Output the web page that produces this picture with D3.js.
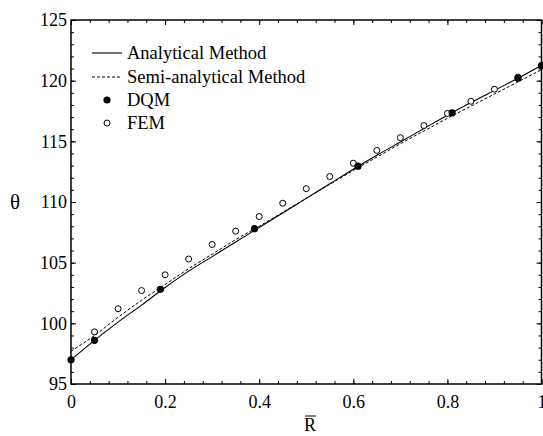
<!DOCTYPE html>
<html>
<head>
<meta charset="utf-8">
<script src="https://cdn.jsdelivr.net/npm/d3@7"></script>
<style>
  body { margin: 0; background: #fff; }
  svg { display: block; }
</style>
</head>
<body>
<div id="js-chart"></div>
<script>
// data
const xLine = [0, 0.05, 0.1, 0.15, 0.2, 0.25, 0.3, 0.35, 0.4, 0.45, 0.5, 0.55, 0.6, 0.65, 0.7, 0.75, 0.8, 0.85, 0.9, 0.95, 1];
const analytical = [97.0, 98.6, 100.1, 101.5, 102.95, 104.3, 105.5, 106.7, 107.9, 109.1, 110.3, 111.5, 112.7, 113.85, 114.95, 116.05, 117.15, 118.2, 119.2, 120.2, 121.25];
const semiAnalytical = [97.7, 99.0, 100.5, 101.9, 103.2, 104.5, 105.7, 106.9, 108.0, 109.15, 110.3, 111.45, 112.6, 113.7, 114.8, 115.85, 116.9, 117.9, 118.9, 119.9, 120.9];
const dqmX = [0, 0.05, 0.19, 0.39, 0.61, 0.81, 0.95, 1];
const dqmY = [97.0, 98.6, 102.8, 107.8, 112.95, 117.35, 120.2, 121.25];
const femX = [0.05, 0.1, 0.15, 0.2, 0.25, 0.3, 0.35, 0.4, 0.45, 0.5, 0.55, 0.6, 0.65, 0.7, 0.75, 0.8, 0.85, 0.9, 0.95, 1];
const femY = [99.3, 101.2, 102.7, 104.0, 105.3, 106.5, 107.6, 108.8, 109.9, 111.1, 112.1, 113.2, 114.25, 115.3, 116.3, 117.3, 118.3, 119.3, 120.3, 121.2];
const xTicks = [0, 0.2, 0.4, 0.6, 0.8, 1];
const yTicks = [95, 100, 105, 110, 115, 120, 125];
const legendItems = ['Analytical Method', 'Semi-analytical Method', 'DQM', 'FEM'];

const FONT = 'Liberation Serif';
const W = 543, H = 436;
const m = { left: 71, right: 1.5, top: 20, bottom: 52 };

const svg = d3.select('#js-chart').append('svg')
  .attr('width', W).attr('height', H)
  .attr('font-family', FONT);

const x = d3.scaleLinear().domain([0, 1]).range([m.left, W - m.right]);
const y = d3.scaleLinear().domain([95, 125]).range([H - m.bottom, m.top]);

const xMinor = d3.range(0, 1.0001, 0.04).map(v => +v.toFixed(2));
const yMinor = d3.range(95, 125.001, 1);

// axes, ticks inward
function addAxis(axis, tr, values, size, pad, fmt) {
  const g = svg.append('g').attr('transform', tr)
    .call(axis.tickValues(values).tickSize(size).tickPadding(pad).tickFormat(fmt));
  g.attr('font-family', FONT).attr('font-size', 18);
  g.select('.domain').remove();
  g.selectAll('line').attr('stroke', '#000').attr('stroke-width', 1);
  g.selectAll('text').attr('fill', '#000');
  return g;
}
const noLabel = () => '';
const bottomY = y(95), topY = y(125), leftX = x(0), rightX = x(1);

addAxis(d3.axisBottom(x), `translate(0,${bottomY})`, xTicks, -5, 11, d3.format('~g'));
addAxis(d3.axisBottom(x), `translate(0,${bottomY})`, xMinor, -3, 0, noLabel);
addAxis(d3.axisTop(x), `translate(0,${topY})`, xTicks, -5, 0, noLabel);
addAxis(d3.axisTop(x), `translate(0,${topY})`, xMinor, -3, 0, noLabel);
addAxis(d3.axisLeft(y), `translate(${leftX},0)`, yTicks, -5, 4, d3.format('d'));
addAxis(d3.axisLeft(y), `translate(${leftX},0)`, yMinor, -3, 0, noLabel);
addAxis(d3.axisRight(y), `translate(${rightX},0)`, yTicks, -5, 0, noLabel);
addAxis(d3.axisRight(y), `translate(${rightX},0)`, yMinor, -3, 0, noLabel);

// frame
svg.append('rect')
  .attr('x', leftX).attr('y', topY)
  .attr('width', rightX - leftX).attr('height', bottomY - topY)
  .attr('fill', 'none').attr('stroke', '#000').attr('stroke-width', 1.5);

// curves
const line = d3.line().x(d => x(d[0])).y(d => y(d[1])).curve(d3.curveMonotoneX);
svg.append('path')
  .datum(xLine.map((v, i) => [v, analytical[i]]))
  .attr('d', line).attr('fill', 'none').attr('stroke', '#000').attr('stroke-width', 1.1);
svg.append('path')
  .datum(xLine.map((v, i) => [v, semiAnalytical[i]]))
  .attr('d', line).attr('fill', 'none').attr('stroke', '#000').attr('stroke-width', 1)
  .attr('stroke-dasharray', '3,2');

// points
svg.append('g').selectAll('circle')
  .data(femX.map((v, i) => [v, femY[i]]))
  .enter().append('circle')
  .attr('cx', d => x(d[0])).attr('cy', d => y(d[1])).attr('r', 3)
  .attr('fill', '#fff').attr('stroke', '#000').attr('stroke-width', 1);
svg.append('g').selectAll('circle')
  .data(dqmX.map((v, i) => [v, dqmY[i]]))
  .enter().append('circle')
  .attr('cx', d => x(d[0])).attr('cy', d => y(d[1])).attr('r', 3.6)
  .attr('fill', '#000');

// legend
const lg = svg.append('g');
const ly = [53, 77, 100, 123];
lg.append('line').attr('x1', 92).attr('x2', 122).attr('y1', ly[0]).attr('y2', ly[0])
  .attr('stroke', '#000').attr('stroke-width', 1.1);
lg.append('line').attr('x1', 92).attr('x2', 122).attr('y1', ly[1]).attr('y2', ly[1])
  .attr('stroke', '#000').attr('stroke-width', 1).attr('stroke-dasharray', '3,2');
lg.append('circle').attr('cx', 107).attr('cy', ly[2]).attr('r', 3.6).attr('fill', '#000');
lg.append('circle').attr('cx', 107).attr('cy', ly[3]).attr('r', 3)
  .attr('fill', '#fff').attr('stroke', '#000');
lg.selectAll('text').data(legendItems).enter().append('text')
  .attr('x', 127).attr('y', (d, i) => ly[i]).attr('dy', '0.35em')
  .attr('font-size', 18.5).text(d => d);

// axis titles
svg.append('text').attr('x', 15).attr('y', 202).attr('dy', '0.35em')
  .attr('text-anchor', 'middle').attr('font-size', 21).text('θ');
svg.append('text').attr('x', 310).attr('y', 431)
  .attr('text-anchor', 'middle').attr('font-size', 18).text('R');
svg.append('line').attr('x1', 305).attr('x2', 316).attr('y1', 416).attr('y2', 416)
  .attr('stroke', '#000').attr('stroke-width', 1);
</script>
</body>
</html>
